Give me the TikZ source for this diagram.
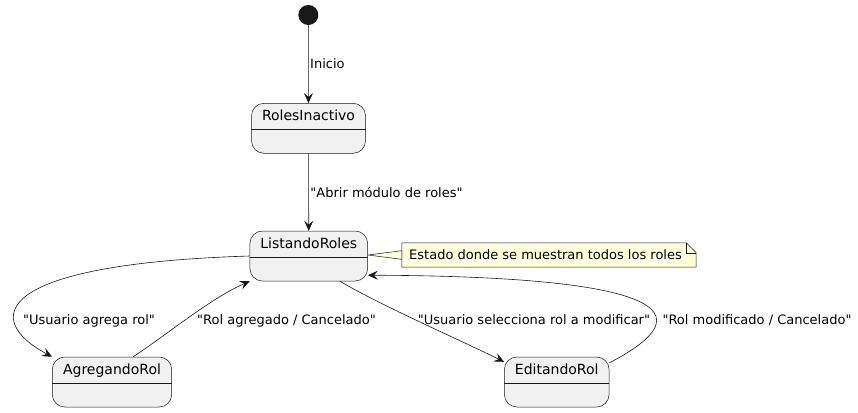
\documentclass[tikz,border=0pt]{standalone}
\usepackage{fontspec}
\setmainfont[Ligatures=TeXOff]{DejaVu Sans}
\usetikzlibrary{arrows.meta,backgrounds}
\definecolor{fondoestado}{HTML}{F1F1F1}
\definecolor{borde}{HTML}{181818}
\definecolor{fondonota}{HTML}{FEFFDD}
\tikzset{
    estado/.style={draw=borde, fill=fondoestado, rounded corners=12.5pt, line width=0.5pt, minimum height=50pt, inner sep=0pt},
    nombre/.style={font=\fontsize{14}{16}\selectfont, anchor=north, inner sep=0pt, yshift=-6.5pt},
    trans/.style={draw=borde, line width=0.6pt, -{Stealth[length=10pt, width=9pt, inset=4pt]}},
    etiq/.style={font=\fontsize{13}{15}\selectfont, inner sep=1.5pt},
    nota/.style={draw=borde, fill=fondonota, line width=0.5pt}
}
\begin{document}
\begin{tikzpicture}[x=1pt, y=-1pt]
    \useasboundingbox (0, 0) rectangle (858, 412);
    \node [circle, fill=borde, minimum size=20pt, inner sep=0pt] (inicio) at (308.3, 15) {};
    \node [estado, minimum width=114pt] (ri) at (308.5, 128.3) {};
    \node [estado, minimum width=117.7pt] (lr) at (308.8, 256) {};
    \node [estado, minimum width=119.4pt] (ag) at (112, 382) {};
    \node [estado, minimum width=104.7pt] (ed) at (556.7, 382) {};
    \node [nombre] (ri-n) at (ri.north) {RolesInactivo};
    \node [nombre] (lr-n) at (lr.north) {ListandoRoles};
    \node [nombre] (ag-n) at (ag.north) {AgregandoRol};
    \node [nombre] (ed-n) at (ed.north) {EditandoRol};
    \foreach \e in {ri, lr, ag, ed}
        \draw [borde, line width=0.5pt] ([yshift=-26.5pt]\e.north west) -- ([yshift=-26.5pt]\e.north east);
    \draw [trans] (inicio) -- (ri) node [etiq, midway, right] {Inicio};
    \draw [trans] (ri) -- (lr) node [etiq, midway, right] {"Abrir módulo de roles"};
    \draw [trans] (lr.west) .. controls (-10, 264) and (-17, 320) .. (ag.north west);
    \draw [trans] (ag.50) .. controls (165, 336) and (211, 298) .. (lr.south west);
    \draw [trans] (lr.-39) .. controls (380, 305) and (460, 340) .. (ed.159);
    \draw [trans] (ed.20) .. controls (740, 295) and (580, 276) .. (lr.-18);
    \node [etiq, anchor=base] (e1) at (89, 324) {"Usuario agrega rol"};
    \node [etiq, anchor=base] (e2) at (286.5, 324) {"Rol agregado / Cancelado"};
    \node [etiq, anchor=base] (e3) at (534, 324) {"Usuario selecciona rol a modificar"};
    \node [etiq, anchor=base] (e4) at (757, 324) {"Rol modificado / Cancelado"};
    \node [minimum width=294pt, minimum height=24pt, inner sep=0pt] (nt) at (549, 255) {};
    \node [etiq] (nt-t) at (545.5, 255) {Estado donde se muestran todos los roles};
    \begin{scope}[on background layer]
	\filldraw [nota] (nt.north west) -- ([xshift=-10pt]nt.north east)
	    -- ([yshift=-10pt]nt.north east) -- (nt.south east) -- (nt.south west) -- cycle;
	\draw [nota, fill=none] ([xshift=-10pt]nt.north east) |- ([yshift=-10pt]nt.north east);
	\filldraw [nota] ([yshift=1pt]lr.east) -- ([yshift=4.3pt]nt.west) -- ([yshift=-4.3pt]nt.west) -- cycle;
    \end{scope}
\end{tikzpicture}
\end{document}
